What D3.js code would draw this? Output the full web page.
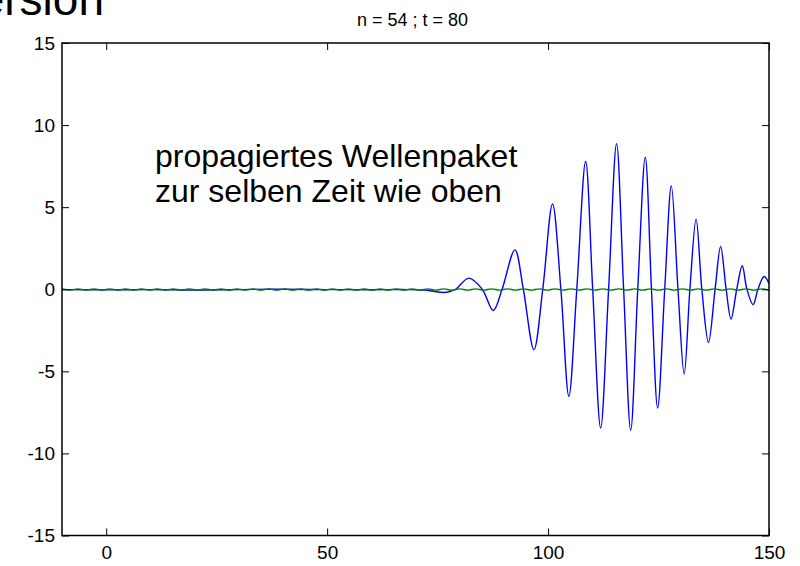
<!DOCTYPE html>
<html>
<head>
<meta charset="utf-8">
<script src="https://cdn.jsdelivr.net/npm/d3@7"></script>
<style>
  html, body { margin: 0; padding: 0; background: #fff; }
  svg { display: block; font-family: Arial, "Liberation Sans", Helvetica, sans-serif; }
</style>
</head>
<body>
<svg id="chart" width="800" height="566"></svg>
<script>
// ---- data ----
const titleText = "n = 54 ; t = 80";
const slideTitle = "Dispersion";
const noteLines = ["propagiertes Wellenpaket", "zur selben Zeit wie oben"];

const xTicks = [0, 50, 100, 150];
const yTicks = [-15, -10, -5, 0, 5, 10, 15];
const xDomain = [-10, 150];
const yDomain = [-15, 15];

// blue: propagated wave packet (peaks, troughs and zero crossings)
const blueX = [-10, 0, 10, 20, 30, 40, 50, 60, 68, 72, 74, 76.3, 78, 79.1, 82.1, 85.1, 87.6, 89.6, 92.5, 94.4, 96.8, 98.8,
  101.0, 102.9, 104.7, 106.5, 108.5, 110.1, 111.9, 113.7, 115.5, 117.1, 118.7, 120.3, 122.0, 123.4, 124.8, 126.4,
  127.9, 129.4, 130.8, 132.1, 133.5, 134.8, 136.3, 137.8, 139.05, 140.3, 141.4, 142.7, 143.95, 145.0, 146.4, 147.5, 148.9, 150];
const blueY = [-0.02, -0.04, -0.02, -0.05, -0.02, 0, -0.02, -0.03, -0.02, -0.05, -0.12, -0.2, -0.12, 0, 0.68, 0, -1.29, 0, 2.4, 0, -3.68, 0,
  5.2, 0, -6.52, 0, 7.78, 0, -8.45, 0, 8.86, 0, -8.59, 0, 8.04, 0, -7.23, 0,
  6.3, 0, -5.16, 0, 4.27, 0, -3.24, 0, 2.6, 0, -1.82, 0, 1.43, 0, -0.94, 0, 0.78, 0.35];

// green: reference line, near zero with a faint ripple
const greenX = [-10, -8.2, -6.4, -4.6, -2.8, -1, 0.8, 2.6, 4.4, 6.2, 8, 9.8, 11.6, 13.4, 15.2, 17, 18.8, 20.6, 22.4, 24.2,
  26, 27.8, 29.6, 31.4, 33.2, 35, 36.8, 38.6, 40.4, 42.2, 44, 45.8, 47.6, 49.4, 51.2, 53, 54.8, 56.6, 58.4, 60.2,
  62, 63.8, 65.6, 67.4, 69.2, 71, 72.8, 74.6, 76.4, 78.2, 80, 81.8, 83.6, 85.4, 87.2, 89, 90.8, 92.6, 94.4, 96.2,
  98, 99.8, 101.6, 103.4, 105.2, 107, 108.8, 110.6, 112.4, 114.2, 116, 117.8, 119.6, 121.4, 123.2, 125, 126.8, 128.6,
  130.4, 132.2, 134, 135.8, 137.6, 139.4, 141.2, 143, 144.8, 146.6, 148.4, 150];
const greenY = [0.02, -0.05, 0.02, -0.05, 0.02, -0.05, 0.02, -0.05, 0.02, -0.05, 0.02, -0.05, 0.02, -0.05, 0.02, -0.05, 0.02, -0.05, 0.02, -0.05,
  0.02, -0.05, 0.02, -0.05, 0.02, -0.05, 0.02, -0.05, 0.02, -0.05, 0.02, -0.05, 0.02, -0.05, 0.02, -0.05, 0.02, -0.05, 0.02, -0.05,
  0.02, -0.05, 0.02, -0.05, 0.02, -0.05, 0.02, -0.05, 0.02, -0.05, 0.02, -0.05, 0.02, -0.05, 0.02, -0.05, 0.02, -0.05, 0.02, -0.05,
  0.02, -0.05, 0.02, -0.05, 0.02, -0.05, 0.02, -0.05, 0.02, -0.05, 0.02, -0.05, 0.02, -0.05, 0.02, -0.05, 0.02, -0.05,
  0.02, -0.05, 0.02, -0.05, 0.02, -0.05, 0.02, -0.05, 0.02, -0.05, 0.02, -0.05];

// ---- drawing ----
const svg = d3.select("#chart");
const L = 62, R = 769, T = 43, B = 535.5;

const x = d3.scaleLinear().domain(xDomain).range([L, R]);
const y = d3.scaleLinear().domain(yDomain).range([B, T]);

// slide title fragment (cut off by top edge, as in the reference)
svg.append("text")
  .attr("x", 104).attr("y", 15)
  .attr("text-anchor", "end")
  .attr("font-size", 46)
  .attr("fill", "#000")
  .text(slideTitle);

const clip = svg.append("defs").append("clipPath").attr("id", "plotclip");
clip.append("rect").attr("x", L).attr("y", T).attr("width", R - L).attr("height", B - T);

const plot = svg.append("g").attr("clip-path", "url(#plotclip)");

const blueData = blueX.map((v, i) => [v, blueY[i]]);
const greenData = greenX.map((v, i) => [v, greenY[i]]);

const line = d3.line()
  .x(d => x(d[0])).y(d => y(d[1]))
  .curve(d3.curveCatmullRom.alpha(0.5));

plot.append("path")
  .attr("d", line(blueData))
  .attr("fill", "none")
  .attr("stroke", "#0000ff")
  .attr("stroke-width", 1.4);

plot.append("path")
  .attr("d", line(greenData))
  .attr("fill", "none")
  .attr("stroke", "#008000")
  .attr("stroke-width", 1.3);

// axes
const tickLen = 7;
const fs = 19;
const fmt = d => String(d);

const gB = svg.append("g").attr("transform", `translate(0,${B})`)
  .call(d3.axisBottom(x).tickValues(xTicks).tickSizeInner(-tickLen).tickSizeOuter(0).tickPadding(10).tickFormat(fmt));
const gT = svg.append("g").attr("transform", `translate(0,${T})`)
  .call(d3.axisTop(x).tickValues(xTicks).tickSizeInner(-tickLen).tickSizeOuter(0).tickFormat(""));
const gL = svg.append("g").attr("transform", `translate(${L},0)`)
  .call(d3.axisLeft(y).tickValues(yTicks).tickSizeInner(-tickLen).tickSizeOuter(0).tickPadding(7).tickFormat(fmt));
const gR = svg.append("g").attr("transform", `translate(${R},0)`)
  .call(d3.axisRight(y).tickValues(yTicks).tickSizeInner(-tickLen).tickSizeOuter(0).tickFormat(""));

[gB, gT, gL, gR].forEach(g => {
  g.select(".domain").remove();
  g.selectAll("line").attr("stroke", "#000").attr("stroke-width", 1);
  g.selectAll("text").attr("fill", "#000").attr("font-size", fs).attr("font-family", "Arial, 'Liberation Sans', sans-serif");
});

// box
svg.append("rect")
  .attr("x", L).attr("y", T).attr("width", R - L).attr("height", B - T)
  .attr("fill", "none").attr("stroke", "#000").attr("stroke-width", 1.5);

// title
svg.append("text")
  .attr("x", (L + R) / 2 - 3).attr("y", 26)
  .attr("text-anchor", "middle")
  .attr("font-size", 18)
  .attr("fill", "#000")
  .text(titleText);

// annotation
svg.append("text")
  .attr("font-size", 32)
  .attr("fill", "#000")
  .selectAll("tspan")
  .data(noteLines)
  .join("tspan")
  .attr("x", 155)
  .attr("y", (d, i) => 167 + i * 35)
  .text(d => d);
</script>
</body>
</html>
